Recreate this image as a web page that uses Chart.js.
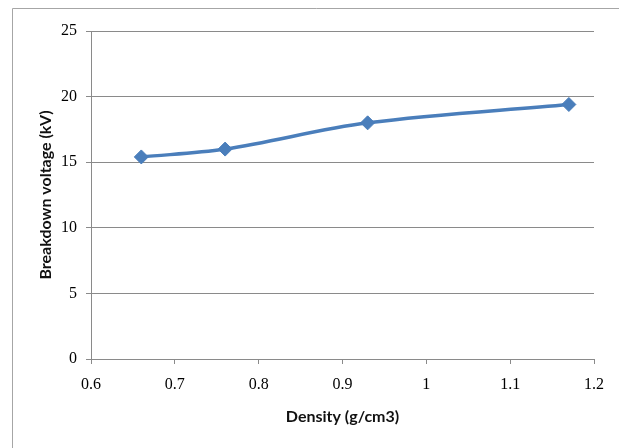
<!DOCTYPE html>
<html>
<head>
<meta charset="utf-8">
<script src="https://cdn.jsdelivr.net/npm/chart.js@4/dist/chart.umd.min.js"></script>
<style>
  html, body { margin: 0; padding: 0; background: #fff; }
  canvas { display: block; }
</style>
</head>
<body>
<canvas id="chart" width="619" height="448"></canvas>
<script>
// 数据
const density = [0.66, 0.76, 0.93, 1.17];
const voltage = [15.4, 16.0, 18.0, 19.4];
const xTicks = [0.6, 0.7, 0.8, 0.9, 1, 1.1, 1.2];
const yTicks = [0, 5, 10, 15, 20, 25];

const gridColor = '#8a8a8a';
const lineColor = '#4a7ebb';

// 外框（只露出上边和左边）
const framePlugin = {
    id: 'frame',
    beforeDraw(chart) {
        const ctx = chart.ctx;
        ctx.save();
        ctx.fillStyle = '#fff';
        ctx.fillRect(0, 0, chart.width, chart.height);
        ctx.strokeStyle = '#a6a6a6';
        ctx.lineWidth = 1;
        ctx.beginPath();
        ctx.moveTo(12.5, chart.height + 2);
        ctx.lineTo(12.5, 8.5);
        ctx.lineTo(chart.width + 2, 8.5);
        ctx.stroke();
        ctx.restore();
    }
};

new Chart(document.getElementById('chart'), {
    type: 'line',
    data: {
        datasets: [{
            data: density.map((x, i) => ({ x: x, y: voltage[i] })),
            borderColor: lineColor,
            backgroundColor: lineColor,
            borderWidth: 3.5,
            pointStyle: 'rectRot',
            pointRadius: 7,
            pointBorderWidth: 1,
            tension: 0.35,
            fill: false
        }]
    },
    options: {
        responsive: false,
        animation: false,
        layout: { padding: { top: 31, right: 25, left: 0, bottom: 0 } },
        plugins: {
            legend: { display: false },
            tooltip: { enabled: false }
        },
        scales: {
            x: {
                type: 'linear',
                min: 0.6,
                max: 1.2,
                afterBuildTicks: s => { s.ticks = xTicks.map(v => ({ value: v })); },
                afterFit: s => { s.height = 89; },
                grid: { drawOnChartArea: false, color: gridColor, tickLength: 5 },
                border: { color: gridColor },
                ticks: {
                    padding: 11,
                    color: '#000',
                    font: { family: 'Liberation Serif', size: 16 },
                    maxRotation: 0,
                    callback: v => String(Math.round(v * 10) / 10)
                },
                title: {
                    display: true,
                    text: 'Density (g/cm3)',
                    color: '#111',
                    font: { family: 'Lato', size: 16, weight: 'bold' },
                    padding: { top: 0, bottom: 22 }
                }
            },
            y: {
                min: 0,
                max: 25,
                afterBuildTicks: s => { s.ticks = yTicks.map(v => ({ value: v })); },
                afterFit: s => { s.width = 91; },
                grid: { color: gridColor, tickLength: 5 },
                border: { color: gridColor },
                ticks: {
                    padding: 9,
                    color: '#000',
                    font: { family: 'Liberation Serif', size: 16 }
                },
                title: {
                    display: true,
                    text: 'Breakdown voltage (kV)',
                    color: '#111',
                    font: { family: 'Lato', size: 16, weight: 'bold' },
                    padding: { top: 36, bottom: 0 }
                }
            }
        }
    },
    plugins: [framePlugin]
});
</script>
</body>
</html>
